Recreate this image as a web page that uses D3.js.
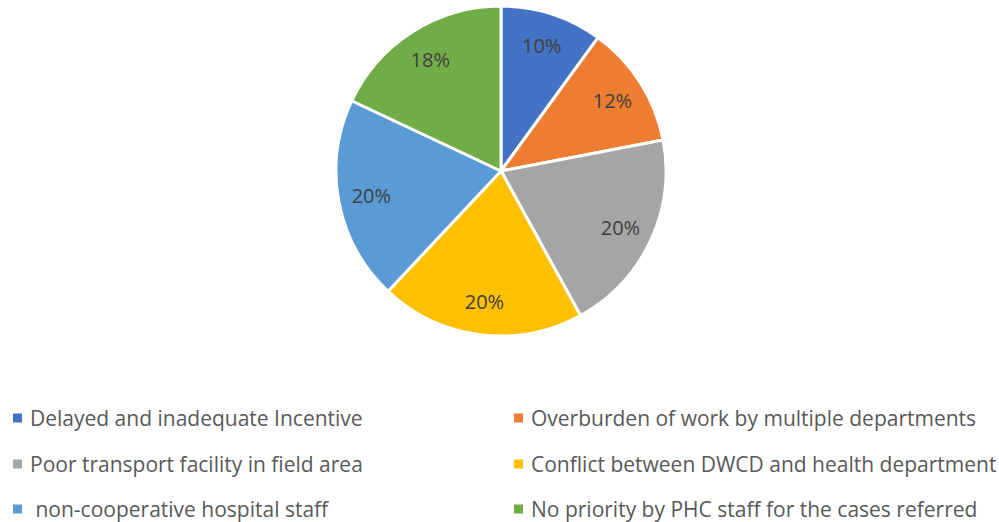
<!DOCTYPE html>
<html>
<head>
<meta charset="utf-8">
<script src="https://cdn.jsdelivr.net/npm/d3@7"></script>
<style>
  html, body { margin: 0; padding: 0; background: #ffffff; }
  svg { display: block; }
</style>
</head>
<body>
<svg id="chart" width="999" height="522"></svg>
<script>
// Reasons reported, share of responses (%)
const categories = [
  "Delayed and inadequate Incentive",
  "Overburden of work by multiple departments",
  "Poor transport facility in field area",
  "Conflict between DWCD and health department",
  " non-cooperative hospital staff",
  "No priority by PHC staff for the cases referred"
];
const values = [10, 12, 20, 20, 20, 18];
const colors = ["#4472C4", "#ED7D31", "#A5A5A5", "#FFC000", "#5B9BD5", "#70AD47"];

const svg = d3.select("#chart");
const cx = 501, cy = 171, radius = 165;

const pie = d3.pie().sort(null).value(d => d.value);
const data = categories.map((c, i) => ({ name: c, value: values[i], color: colors[i] }));
const arcs = pie(data);

const arc = d3.arc().innerRadius(0).outerRadius(radius);
const labelArc = d3.arc().innerRadius(radius * 0.8).outerRadius(radius * 0.8);

const g = svg.append("g").attr("transform", `translate(${cx},${cy})`);

g.selectAll("path.slice")
  .data(arcs)
  .join("path")
  .attr("class", "slice")
  .attr("d", arc)
  .attr("fill", d => d.data.color)
  .attr("stroke", "#ffffff")
  .attr("stroke-width", 3)
  .attr("stroke-linejoin", "round");

g.selectAll("text.pct")
  .data(arcs)
  .join("text")
  .attr("class", "pct")
  .attr("transform", d => `translate(${labelArc.centroid(d)})`)
  .attr("text-anchor", "middle")
  .attr("dominant-baseline", "central")
  .attr("font-family", "'Open Sans', sans-serif")
  .attr("font-size", 20)
  .attr("fill", "#404040")
  .text(d => `${d.data.value}%`);

// Legend: two columns, three rows
const legendCols = [13, 514];
const legendRows = [418, 464, 509];
const legend = svg.append("g");
const items = legend.selectAll("g.item")
  .data(data)
  .join("g")
  .attr("class", "item")
  .attr("transform", (d, i) => `translate(${legendCols[i % 2]},${legendRows[Math.floor(i / 2)]})`);

items.append("rect")
  .attr("x", 0).attr("y", -4.5)
  .attr("width", 9).attr("height", 9)
  .attr("fill", d => d.color);

items.append("text")
  .attr("x", 17)
  .attr("y", 0)
  .attr("dominant-baseline", "central")
  .attr("font-family", "'Open Sans', sans-serif")
  .attr("font-size", 21)
  .attr("fill", "#595959")
  .attr("xml:space", "preserve")
  .style("white-space", "pre")
  .text(d => d.name);
</script>
</body>
</html>
